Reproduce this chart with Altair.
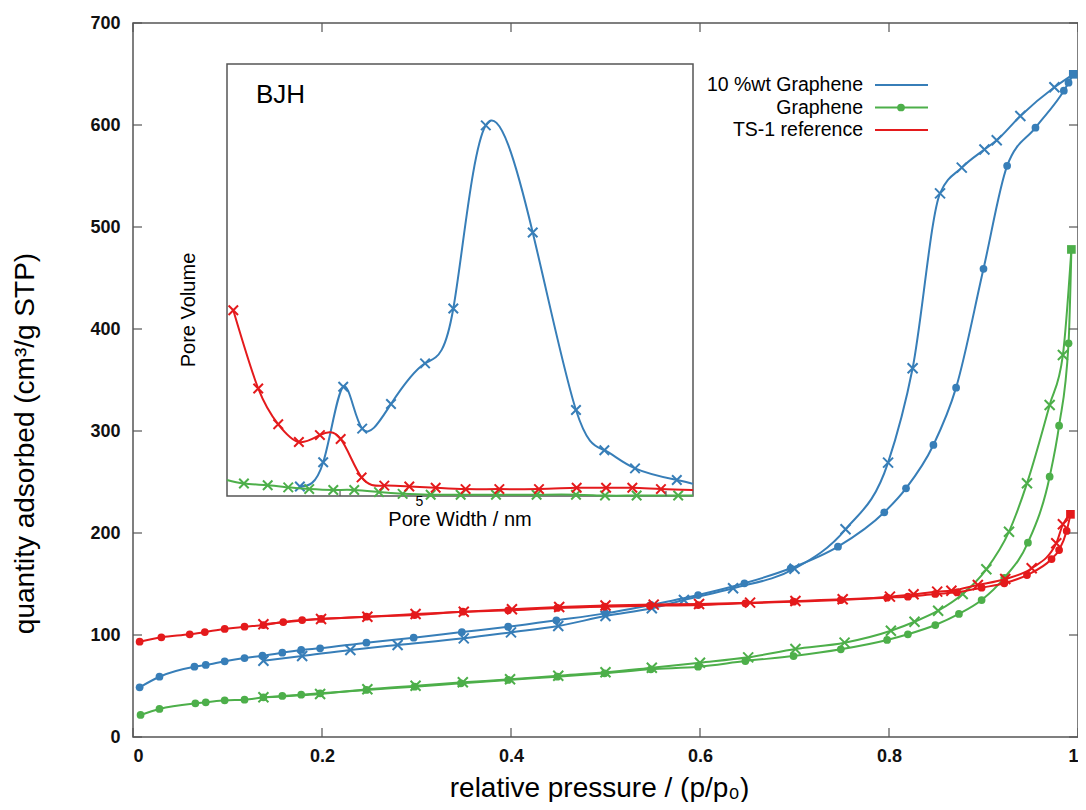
import altair as alt
import pandas as pd

NAMES = ["10 %wt Graphene", "Graphene", "TS-1 reference"]
COLORS = ["#377eb8", "#4daf4a", "#e41a1c"]
FONT = "Liberation Sans"

# ---------------- main isotherms (relative pressure, quantity adsorbed) ----------------
blue_ads_x = [0.007, 0.028, 0.065, 0.077, 0.097, 0.118, 0.137, 0.158, 0.178, 0.198, 0.247, 0.297,
              0.348, 0.397, 0.448, 0.500, 0.548, 0.598, 0.647, 0.696, 0.746, 0.795, 0.818, 0.847,
              0.871, 0.900, 0.925, 0.955, 0.985, 0.990]
blue_ads_y = [48.7, 59.1, 68.9, 70.6, 74.2, 77.4, 79.7, 82.6, 85.3, 86.9, 92.5, 97.4,
              102.9, 108.1, 114.4, 121.2, 129.5, 139.2, 150.7, 165.4, 186.6, 220.3, 243.8, 286.3,
              342.5, 459.0, 560.0, 597.4, 633.6, 641.5]
blue_des_x = [0.138, 0.179, 0.230, 0.280, 0.350, 0.400, 0.450, 0.500, 0.549, 0.583, 0.635, 0.700,
              0.754, 0.799, 0.825, 0.854, 0.877, 0.901, 0.914, 0.939, 0.975]
blue_des_y = [74.8, 79.4, 85.3, 90.2, 96.7, 102.6, 108.8, 118.6, 126.2, 134.3, 145.8, 165.0,
              203.6, 269.0, 361.5, 533.0, 558.2, 576.0, 585.0, 608.8, 637.0]
blue_top = (0.995, 649.7)

green_ads_x = [0.008, 0.028, 0.066, 0.077, 0.097, 0.118, 0.138, 0.158, 0.178, 0.198, 0.247, 0.298,
               0.347, 0.397, 0.449, 0.499, 0.548, 0.598, 0.648, 0.699, 0.749, 0.798, 0.820, 0.849,
               0.874, 0.898, 0.922, 0.947, 0.970, 0.980, 0.990]
green_ads_y = [21.6, 27.5, 33.0, 34.0, 36.0, 36.6, 38.9, 40.2, 41.5, 42.8, 46.1, 49.3,
               52.6, 55.9, 59.1, 62.4, 66.4, 68.9, 74.5, 79.4, 86.0, 95.1, 100.7, 109.8,
               120.6, 134.3, 156.0, 190.5, 255.2, 305.2, 386.0]
green_des_x = [0.138, 0.198, 0.248, 0.299, 0.349, 0.399, 0.450, 0.500, 0.549, 0.600, 0.651, 0.701,
               0.753, 0.802, 0.827, 0.852, 0.878, 0.903, 0.927, 0.946, 0.970, 0.984]
green_des_y = [38.9, 42.2, 46.8, 50.3, 53.6, 56.6, 60.1, 63.4, 67.9, 72.8, 78.1, 86.3,
               92.5, 104.2, 113.0, 123.8, 140.2, 164.4, 201.3, 248.7, 325.5, 374.5]
green_top = (0.993, 478.0)

red_ads_x = [0.007, 0.030, 0.060, 0.076, 0.097, 0.118, 0.138, 0.159, 0.179, 0.199, 0.247, 0.298,
             0.349, 0.397, 0.449, 0.499, 0.547, 0.598, 0.648, 0.699, 0.749, 0.798, 0.820, 0.849,
             0.872, 0.898, 0.922, 0.946, 0.972, 0.980, 0.988]
red_ads_y = [93.4, 97.7, 100.7, 102.9, 105.9, 108.1, 109.8, 112.7, 114.7, 115.7, 117.9, 119.6,
             122.8, 124.2, 126.5, 127.8, 128.6, 129.4, 131.1, 132.7, 134.3, 136.6, 137.6, 140.2,
             141.8, 146.4, 150.7, 158.8, 174.5, 183.3, 202.0]
red_des_x = [0.138, 0.199, 0.248, 0.299, 0.350, 0.401, 0.451, 0.500, 0.551, 0.599, 0.653, 0.701,
             0.751, 0.801, 0.826, 0.851, 0.866, 0.894, 0.923, 0.951, 0.977, 0.984]
red_des_y = [110.5, 115.7, 117.9, 120.6, 122.8, 125.2, 127.5, 129.0, 129.8, 130.4, 131.7, 133.3,
             135.0, 137.6, 139.9, 142.5, 143.4, 149.0, 154.9, 165.4, 189.9, 208.5]
red_top = (0.992, 218.3)

XTICKS = [0, 0.2, 0.4, 0.6, 0.8, 1.0]
YTICKS = [0, 100, 200, 300, 400, 500, 600, 700]

# ---------------- inset BJH (pore width nm, pore volume a.u.) ----------------
blue_in_x = [3.573, 3.815, 4.036, 4.257, 4.616, 5.080, 5.500, 6.026, 6.876, 7.765, 8.410, 9.167, 10.31]
blue_in_y = [0.022, 0.078, 0.253, 0.156, 0.213, 0.307, 0.434, 0.858, 0.610, 0.199, 0.106, 0.064, 0.037]
blue_in_edge = [(10.79, 0.028)]

red_in_x = [2.963, 3.178, 3.362, 3.563, 3.780, 4.007, 4.250, 4.530, 4.860, 5.234, 5.693, 6.260,
            6.998, 7.780, 8.451, 9.098, 9.860]
red_in_y = [0.430, 0.249, 0.166, 0.125, 0.141, 0.132, 0.043, 0.024, 0.022, 0.019, 0.016, 0.016,
            0.016, 0.019, 0.019, 0.019, 0.016]
red_in_edge = [(10.79, 0.014)]

green_in_x = [3.053, 3.264, 3.458, 3.668, 3.925, 4.163, 4.463, 4.770, 5.161, 5.615, 6.201, 6.951,
              7.765, 8.425, 9.209, 10.35]
green_in_y = [0.029, 0.025, 0.020, 0.016, 0.014, 0.014, 0.009, 0.005, 0.003, 0.003, 0.003, 0.003,
              0.003, 0.001, 0.001, 0.001]
green_in_edge = [(2.911, 0.037), (10.79, 0.001)]

INSET_DOMAIN_X = [2.911, 10.79]
INSET_DOMAIN_Y = [0, 1]
INSET_TICKS = [4, 10]
INSET_LABEL = [5]

# ---------------- layout ----------------
W, H = 945, 714
BORDER = "#555555"
CROSS = "M-1,-1L1,1M-1,1L1,-1"

xs = alt.Scale(domain=[0, 1], nice=False, zero=False)
ys = alt.Scale(domain=[0, 700], nice=False)
ax_x = alt.Axis(values=XTICKS, format="~g", ticks=False, tickSize=0, domain=False, grid=False,
                labelFont=FONT, labelFontSize=18, labelFontWeight="bold", labelColor="#111111",
                labelPadding=10,
                title="relative pressure / (p/p\u2080)", titleFont=FONT, titleFontSize=28,
                titleFontWeight="normal", titleColor="black", titleX=466, titleY=59,
                titleBaseline="alphabetic")
ax_y = alt.Axis(values=YTICKS, ticks=False, tickSize=0, domain=False, grid=False,
                labelFont=FONT, labelFontSize=18, labelFontWeight="bold", labelColor="#111111",
                labelPadding=13,
                title="quantity adsorbed (cm\u00b3/g STP)", titleFont=FONT, titleFontSize=28,
                titleFontWeight="normal", titleColor="black", titleX=-100, titleY=420,
                titleBaseline="alphabetic")
X = alt.X("p:Q", scale=xs, axis=ax_x)
Y = alt.Y("q:Q", scale=ys, axis=ax_y)


def iso_layers(color, ax, ay, dx, dy, top):
    ads = pd.DataFrame({"p": ax + [top[0]], "q": ay + [top[1]]})
    des = pd.DataFrame({"p": dx + [top[0]], "q": dy + [top[1]]})
    pa = pd.DataFrame({"p": ax, "q": ay})
    pdes = pd.DataFrame({"p": dx, "q": dy})
    pt = pd.DataFrame({"p": [top[0]], "q": [top[1]]})
    la = alt.Chart(ads).mark_line(color=color, strokeWidth=2, interpolate="monotone").encode(x=X, y=Y)
    ld = alt.Chart(des).mark_line(color=color, strokeWidth=2, interpolate="monotone").encode(x=X, y=Y)
    ca = alt.Chart(pa).mark_point(shape="circle", filled=True, size=60, color=color, opacity=1).encode(x=X, y=Y)
    cd = alt.Chart(pdes).mark_point(shape=CROSS, filled=False, size=100, color=color, strokeWidth=2,
                                    opacity=1).encode(x=X, y=Y)
    sq = alt.Chart(pt).mark_point(shape="square", filled=True, size=75, color=color, opacity=1).encode(x=X, y=Y)
    return [la, ld, ca, cd, sq]


layers = []
layers += iso_layers(COLORS[0], blue_ads_x, blue_ads_y, blue_des_x, blue_des_y, blue_top)
layers += iso_layers(COLORS[1], green_ads_x, green_ads_y, green_des_x, green_des_y, green_top)
layers += iso_layers(COLORS[2], red_ads_x, red_ads_y, red_des_x, red_des_y, red_top)

ytk = pd.DataFrame({"q": YTICKS})
xtk = pd.DataFrame({"p": XTICKS})
tick_l = alt.Chart(ytk).mark_rule(color=BORDER, strokeWidth=1.2).encode(y=Y, x=alt.value(0), x2=alt.value(9))
tick_r = alt.Chart(ytk).mark_rule(color=BORDER, strokeWidth=1.2).encode(y=Y, x=alt.value(W - 9), x2=alt.value(W))
tick_b = alt.Chart(xtk).mark_rule(color=BORDER, strokeWidth=1.2).encode(x=X, y=alt.value(H), y2=alt.value(H - 9))
tick_t = alt.Chart(xtk).mark_rule(color=BORDER, strokeWidth=1.2).encode(x=X, y=alt.value(0), y2=alt.value(9))

# legend (manual, symbols to the right of labels)
leg = []
leg_rows = [62, 84.5, 107]
for i, (nm, col) in enumerate(zip(NAMES, COLORS)):
    d = pd.DataFrame({"name": [nm]})
    leg.append(alt.Chart(d).mark_text(align="right", baseline="middle", font=FONT, fontSize=19.5,
                                      color="black").encode(text="name:N", x=alt.value(730), y=alt.value(leg_rows[i])))
    leg.append(alt.Chart(d).mark_rule(color=col, strokeWidth=2).encode(
        x=alt.value(742), x2=alt.value(795), y=alt.value(leg_rows[i])))
    if i == 1:
        leg.append(alt.Chart(d).mark_point(shape="circle", filled=True, size=60, color=col, opacity=1).encode(
            x=alt.value(768), y=alt.value(leg_rows[i])))

main_group = alt.layer(*layers, tick_l, tick_r, tick_b, tick_t, *leg)

# ---------------- inset ----------------
ixs = alt.Scale(type="log", domain=INSET_DOMAIN_X, range=[94, 560], nice=False)
iys = alt.Scale(domain=INSET_DOMAIN_Y, range=[473, 41], nice=False)
IX = alt.X("w:Q", scale=ixs, axis=None)
IY = alt.Y("v:Q", scale=iys, axis=None)

frame = alt.Chart(pd.DataFrame({"w": [INSET_DOMAIN_X[0]], "w2": [INSET_DOMAIN_X[1]],
                                "v": [INSET_DOMAIN_Y[0]], "v2": [INSET_DOMAIN_Y[1]]})).mark_rect(
    fill="white", stroke=BORDER, strokeWidth=1.5).encode(x=IX, x2="w2:Q", y=IY, y2="v2:Q")

inset_layers = [frame]
for col, xx, yy, edge in [(COLORS[0], blue_in_x, blue_in_y, blue_in_edge),
                          (COLORS[1], green_in_x, green_in_y, green_in_edge),
                          (COLORS[2], red_in_x, red_in_y, red_in_edge)]:
    line_df = pd.DataFrame({"w": xx + [e[0] for e in edge], "v": yy + [e[1] for e in edge]}).sort_values("w")
    pts_df = pd.DataFrame({"w": xx, "v": yy})
    inset_layers.append(alt.Chart(line_df).mark_line(color=col, strokeWidth=2, interpolate="natural").encode(
        x=IX, y=IY, order="w:Q"))
    inset_layers.append(alt.Chart(pts_df).mark_point(shape=CROSS, filled=False, size=90, color=col,
                                                     strokeWidth=2, opacity=1).encode(x=IX, y=IY))

itk = alt.Chart(pd.DataFrame({"w": INSET_TICKS})).mark_rule(color=BORDER, strokeWidth=1.2).encode(
    x=IX, y=alt.value(473), y2=alt.value(468))
ilab = alt.Chart(pd.DataFrame({"w": INSET_LABEL, "t": [str(v) for v in INSET_LABEL]})).mark_text(
    font=FONT, fontSize=14, color="black", baseline="alphabetic").encode(x=IX, y=alt.value(483), text="t:N")
t_bjh = alt.Chart(pd.DataFrame({"t": ["BJH"]})).mark_text(
    font=FONT, fontSize=26, color="black", align="left", baseline="alphabetic").encode(
    text="t:N", x=alt.value(123), y=alt.value(80))
t_pv = alt.Chart(pd.DataFrame({"t": ["Pore Volume"]})).mark_text(
    font=FONT, fontSize=20, color="black", align="center", baseline="alphabetic", angle=270).encode(
    text="t:N", x=alt.value(62), y=alt.value(287))
t_pw = alt.Chart(pd.DataFrame({"t": ["Pore Width / nm"]})).mark_text(
    font=FONT, fontSize=20, color="black", align="center", baseline="alphabetic").encode(
    text="t:N", x=alt.value(327), y=alt.value(503))

inset_group = alt.layer(*inset_layers, itk, ilab, t_bjh, t_pv, t_pw)

chart = alt.layer(main_group, inset_group).resolve_scale(
    x="independent", y="independent"
).properties(
    width=W, height=H,
    padding={"left": 125, "top": 15, "right": 0, "bottom": 65},
    autosize=alt.AutoSizeParams(type="none"),
    background="white",
).configure_view(stroke=BORDER, strokeWidth=1.5)

chart.save("out.html", embed_options={"renderer": "svg", "actions": False})
